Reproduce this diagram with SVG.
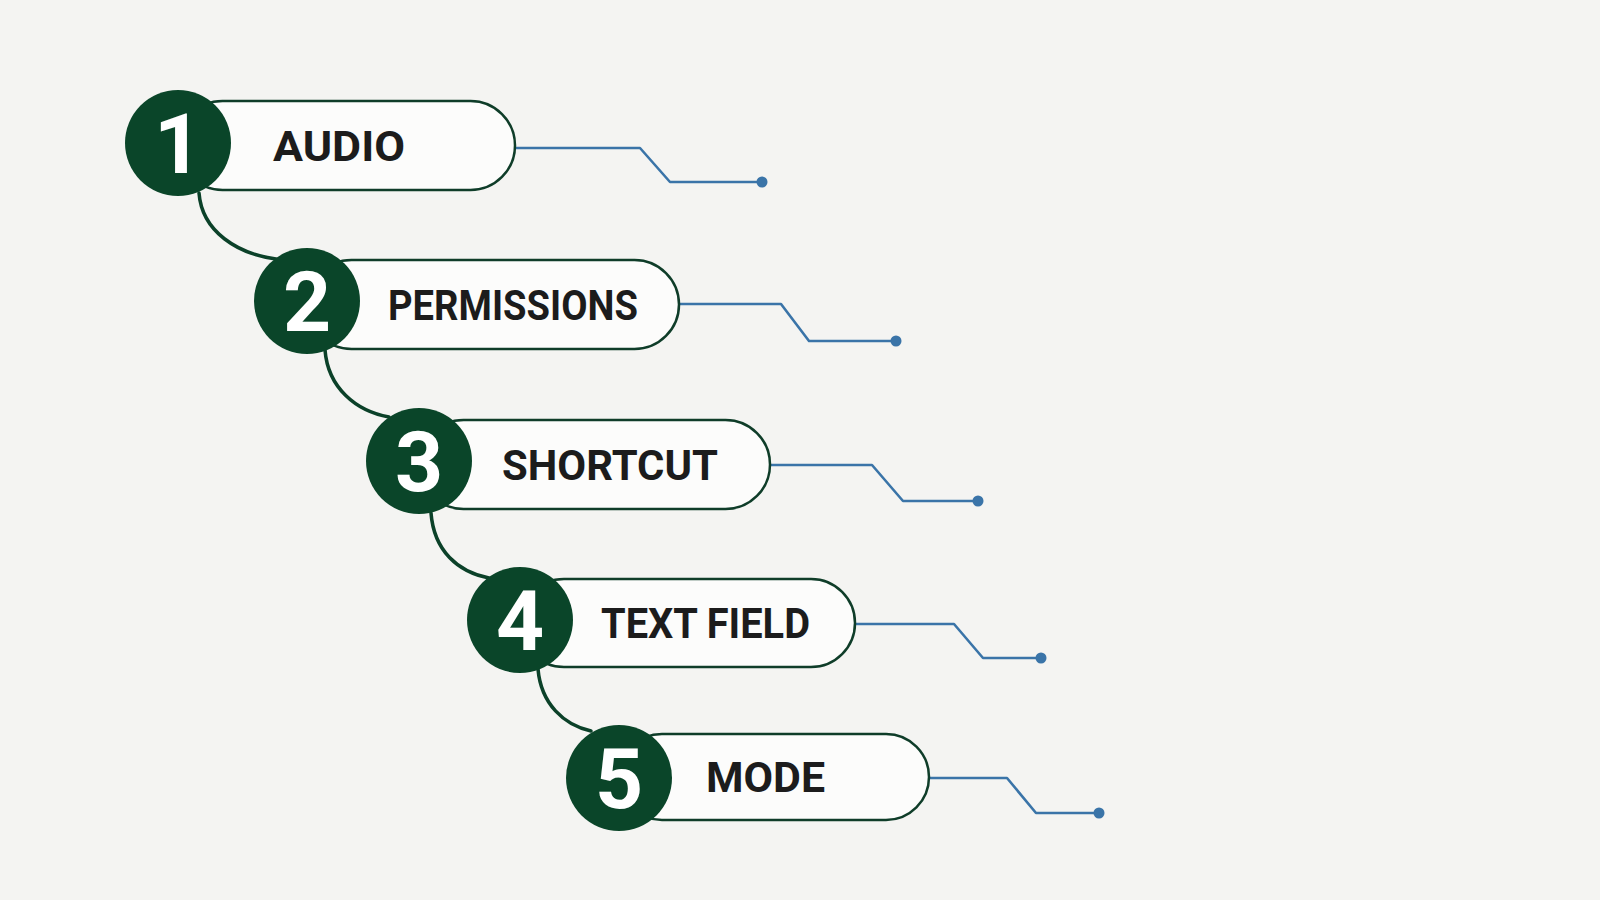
<svg xmlns="http://www.w3.org/2000/svg" width="1600" height="900" viewBox="0 0 1600 900">
<style>
.pill{fill:#fcfcfb;stroke:#0f3d29;stroke-width:2.5}
.circ{fill:#0a4529}
.num{font-family:Roboto,"Liberation Sans",sans-serif;font-weight:700;font-size:84px;fill:#ffffff;text-anchor:middle}
.lbl{font-family:Roboto,"Liberation Sans",sans-serif;font-weight:700;font-size:42px;fill:#1c1c1c}
.link{fill:none;stroke:#0b4129;stroke-width:3.5;stroke-linecap:round}
.lead{fill:none;stroke:#3a74a8;stroke-width:2.6;stroke-linejoin:round}
.dot{fill:#3a74a8}
</style>
<rect width="1600" height="900" fill="#f4f4f2"/>
<g id="connectors">
<path class="link" d="M199,193 C202,232 238,254 276,259"/>
<path class="link" d="M325,350 C328,388 356,411 389,417"/>
<path class="link" d="M431,513 C434,551 458,572 489,578"/>
<path class="link" d="M538,669 C541,704 564,725 591,731"/>
<path class="lead" d="M515,148 H640 L670,182 H762"/>
<circle class="dot" cx="762" cy="182" r="5.5"/>
<path class="lead" d="M679,304 H781 L809,341 H896"/>
<circle class="dot" cx="896" cy="341" r="5.5"/>
<path class="lead" d="M770,465 H872 L903,501 H978"/>
<circle class="dot" cx="978" cy="501" r="5.5"/>
<path class="lead" d="M855,624 H954 L983,658 H1041"/>
<circle class="dot" cx="1041" cy="658" r="5.5"/>
<path class="lead" d="M929,778 H1007 L1036,813 H1099"/>
<circle class="dot" cx="1099" cy="813" r="5.5"/>
</g>
<g id="node1">
<rect class="pill" x="178" y="101" width="337" height="89" rx="44.5"/>
<circle class="circ" cx="178" cy="143" r="53"/>
<text class="num" x="178" y="173">1</text>
<text class="lbl" x="273" y="161" textLength="132" lengthAdjust="spacingAndGlyphs">AUDIO</text>
</g>
<g id="node2">
<rect class="pill" x="307" y="260" width="372" height="89" rx="44.5"/>
<circle class="circ" cx="307" cy="301" r="53"/>
<text class="num" x="307" y="331">2</text>
<text class="lbl" x="388" y="320" textLength="250" lengthAdjust="spacingAndGlyphs">PERMISSIONS</text>
</g>
<g id="node3">
<rect class="pill" x="419" y="420" width="351" height="89" rx="44.5"/>
<circle class="circ" cx="419" cy="461" r="53"/>
<text class="num" x="419" y="491">3</text>
<text class="lbl" x="502" y="480" textLength="216" lengthAdjust="spacingAndGlyphs">SHORTCUT</text>
</g>
<g id="node4">
<rect class="pill" x="520" y="579" width="335" height="88" rx="44"/>
<circle class="circ" cx="520" cy="620" r="53"/>
<text class="num" x="520" y="650">4</text>
<text class="lbl" x="601" y="638" textLength="209" lengthAdjust="spacingAndGlyphs">TEXT FIELD</text>
</g>
<g id="node5">
<rect class="pill" x="619" y="734" width="310" height="86" rx="43"/>
<circle class="circ" cx="619" cy="778" r="53"/>
<text class="num" x="619" y="808">5</text>
<text class="lbl" x="706" y="792" textLength="119" lengthAdjust="spacingAndGlyphs">MODE</text>
</g>
</svg>
